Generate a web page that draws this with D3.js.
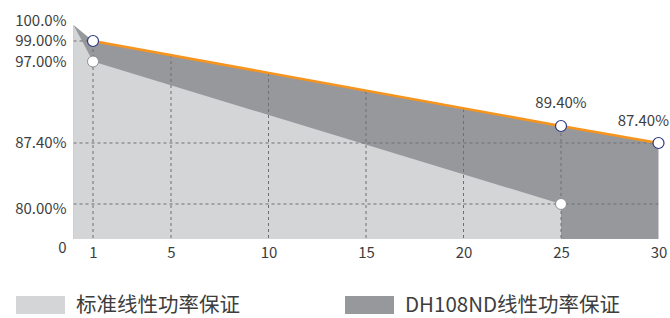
<!DOCTYPE html>
<html>
<head>
<meta charset="utf-8">
<script src="https://cdn.jsdelivr.net/npm/d3@7"></script>
<style>
  body { margin: 0; background: #fff; }
  text { font-family: "Noto Sans CJK SC", "Noto Sans", sans-serif; fill: #3d3d3d; }
</style>
</head>
<body>
<div id="vis"></div>
<script>
// frame
const FRAME_WIDTH = 670;
const FRAME_HEIGHT = 318;
const MARGINS = {left: 73.5, right: 11.5, top: 25, bottom: 79};
const VIS_WIDTH = FRAME_WIDTH - MARGINS.left - MARGINS.right;
const VIS_HEIGHT = FRAME_HEIGHT - MARGINS.top - MARGINS.bottom;

// data
const years = [0, 1, 25];
const standardValues = [100, 97, 80];
const dhYears = [0, 1, 25, 30];
const dhValues = [100, 99, 89.4, 87.4];
const xTicks = [1, 5, 10, 15, 20, 25, 30];
const yTicks = [0, 80, 87.4, 97, 99, 100];
const yTickLabels = ["0", "80.00%", "87.40%", "97.00%", "99.00%", "100.0%"];
const yGrid = [80, 87.4, 99];
const legendNames = ["标准线性功率保证", "DH108ND线性功率保证"];

const LIGHT = "#d4d5d7";
const DARK = "#97989c";
const ORANGE = "#f7941d";
const NAVY = "#2c3785";

const FRAME = d3.select("#vis").append("svg")
  .attr("width", FRAME_WIDTH)
  .attr("height", FRAME_HEIGHT);

const X_SCALE = d3.scaleLinear().domain([0, 30])
  .range([MARGINS.left, MARGINS.left + VIS_WIDTH]);

// the y axis is not linear: each tick sits at its own fraction of the height
const Y_SCALE = d3.scaleLinear()
  .domain(yTicks)
  .range([1, 0.8364, 0.5514, 0.1706, 0.0748, 0].map(f => MARGINS.top + f * VIS_HEIGHT));

const standard = years.map((d, i) => ({x: d, y: standardValues[i]}));
const dh = dhYears.map((d, i) => ({x: d, y: dhValues[i]}));

const area = d3.area()
  .x(d => X_SCALE(d.x))
  .y0(Y_SCALE(0))
  .y1(d => Y_SCALE(d.y));

// clip for grid lines = dark area shape
FRAME.append("clipPath").attr("id", "clip")
  .append("path").attr("d", area(dh));

FRAME.append("path").attr("d", area(dh)).attr("fill", DARK);
FRAME.append("path").attr("d", area(standard)).attr("fill", LIGHT);

// grid
const grid = FRAME.append("g").attr("clip-path", "url(#clip)")
  .attr("stroke", "#6f6f72").attr("stroke-width", 1)
  .attr("stroke-dasharray", "3,3");
grid.selectAll("line.h").data(yGrid).enter().append("line")
  .attr("x1", X_SCALE(0)).attr("x2", X_SCALE(30))
  .attr("y1", d => Y_SCALE(d)).attr("y2", d => Y_SCALE(d));
grid.selectAll("line.v").data(xTicks.slice(0, -1)).enter().append("line")
  .attr("x1", d => X_SCALE(d)).attr("x2", d => X_SCALE(d))
  .attr("y1", Y_SCALE(100)).attr("y2", Y_SCALE(0));

// orange line
FRAME.append("path")
  .attr("d", d3.line().x(d => X_SCALE(d.x)).y(d => Y_SCALE(d.y))(dh.slice(1)))
  .attr("fill", "none").attr("stroke", ORANGE).attr("stroke-width", 2.5);

// points
FRAME.selectAll("circle.std").data(standard.slice(1)).enter().append("circle")
  .attr("cx", d => X_SCALE(d.x)).attr("cy", d => Y_SCALE(d.y)).attr("r", 5.5)
  .attr("fill", "#fff").attr("stroke", "#8d8e92").attr("stroke-width", 1);
FRAME.selectAll("circle.dh").data(dh.slice(1)).enter().append("circle")
  .attr("cx", d => X_SCALE(d.x)).attr("cy", d => Y_SCALE(d.y)).attr("r", 5.5)
  .attr("fill", "#fff").attr("stroke", NAVY).attr("stroke-width", 1.2);

// value labels
FRAME.append("text").attr("x", X_SCALE(25)).attr("y", Y_SCALE(89.4) - 18)
  .attr("text-anchor", "middle").attr("font-size", 15).text("89.40%");
FRAME.append("text").attr("x", FRAME_WIDTH - 1).attr("y", Y_SCALE(87.4) - 17)
  .attr("text-anchor", "end").attr("font-size", 15).text("87.40%");

// y labels
const yNudge = [9, 5, 0, 0, 0, -4];
FRAME.selectAll("text.y").data(yTicks).enter().append("text")
  .attr("x", MARGINS.left - 7)
  .attr("y", (d, i) => Y_SCALE(d) + yNudge[i])
  .attr("dy", "0.35em").attr("text-anchor", "end").attr("font-size", 15)
  .text((d, i) => yTickLabels[i]);

// x axis
FRAME.append("g")
  .attr("transform", "translate(0," + (Y_SCALE(0) + 6) + ")")
  .call(d3.axisBottom(X_SCALE).tickValues(xTicks).tickSize(0).tickPadding(0))
  .call(g => g.select(".domain").remove())
  .selectAll("text").attr("font-size", 15).attr("dy", "0.85em")
  .style("font-family", "'Noto Sans CJK SC', 'Noto Sans', sans-serif").attr("fill", "#3d3d3d");

// legend
const legendX = [16, 345];
const legend = FRAME.selectAll("g.legend").data(legendNames).enter().append("g")
  .attr("transform", (d, i) => "translate(" + legendX[i] + ",296)");
legend.append("rect").attr("width", 49).attr("height", 18)
  .attr("fill", (d, i) => i === 0 ? LIGHT : DARK);
legend.append("text").attr("x", 60).attr("y", 9).attr("dy", "0.35em")
  .attr("font-size", 20.5).text(d => d);
</script>
</body>
</html>
